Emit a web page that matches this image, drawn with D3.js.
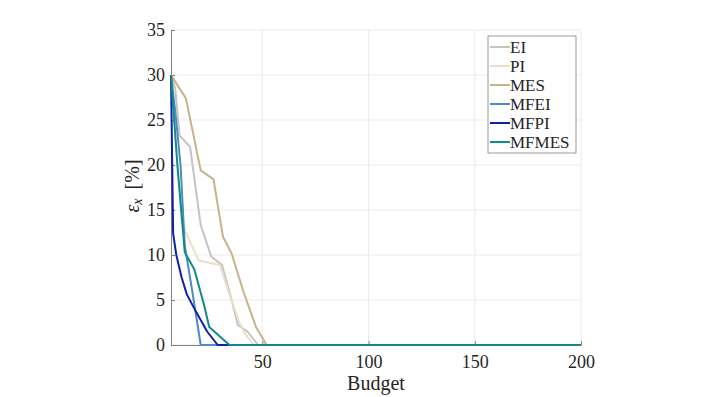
<!DOCTYPE html>
<html>
<head>
<meta charset="utf-8">
<script src="https://cdn.jsdelivr.net/npm/d3@7"></script>
<style>
  body { margin: 0; background: #fff; }
  text { font-family: "Liberation Serif", "Times New Roman", serif; fill: #262626; }
</style>
</head>
<body>
<svg id="chart" width="718" height="397"></svg>
<script>
// budget / error pairs
var seriesNames = ['EI', 'PI', 'MES', 'MFEI', 'MFPI', 'MFMES'];
var seriesColors = ['#c4c4c4', '#e9dfcb', '#c8b28c', '#4a8cc6', '#1020aa', '#13898a'];
var eiData = [[7, 30], [9, 28.5], [11, 23.3], [16, 22], [21, 13.3], [26, 9.8], [31, 8.9], [35, 5.5], [38.5, 2.2], [43, 1.5], [48, 0], [200, 0]];
var piData = [[7, 30], [12, 14], [14, 12.5], [20, 9.4], [30, 8.9], [34, 6], [39, 2.6], [42, 1.2], [46, 0], [200, 0]];
var mesData = [[7, 30], [14, 27.4], [21, 19.4], [27, 18.4], [31.5, 12], [35.5, 10.2], [41, 6], [47, 2], [52, 0], [200, 0]];
var mfeiData = [[7, 30], [9, 26], [11.5, 20], [13.5, 11], [17, 6], [21, 0], [200, 0]];
var mfpiData = [[7, 30], [8, 12.4], [9.5, 10], [12, 7.5], [14.5, 5.6], [19, 3.6], [24, 1.5], [29, 0], [200, 0]];
var mfmesData = [[7, 30], [10, 20], [13.5, 10.3], [18, 8.4], [22.5, 4.5], [25, 2], [34.5, 0], [200, 0]];
var allData = [eiData, piData, mesData, mfeiData, mfpiData, mfmesData];
var xTicks = [50, 100, 150, 200];
var yTicks = [0, 5, 10, 15, 20, 25, 30, 35];

var svg = d3.select('#chart'),
  margin = { top: 30, right: 137, bottom: 52, left: 171 },
  width = +svg.attr('width') - margin.left - margin.right,
  height = +svg.attr('height') - margin.top - margin.bottom,
  g = svg.append('g').attr('transform', 'translate(' + margin.left + ',' + margin.top + ')');

var x = d3.scaleLinear().domain([7, 200]).range([0, width]);
var y = d3.scaleLinear().domain([0, 35]).range([height, 0]);

// grid
g.selectAll('.gx').data(xTicks).enter().append('line')
  .attr('x1', function(d) { return x(d); }).attr('x2', function(d) { return x(d); })
  .attr('y1', 0).attr('y2', height)
  .attr('stroke', '#ebebeb');
g.selectAll('.gy').data(yTicks).enter().append('line')
  .attr('x1', 0).attr('x2', width)
  .attr('y1', function(d) { return y(d); }).attr('y2', function(d) { return y(d); })
  .attr('stroke', '#ebebeb');

// axes
var xAxis = g.append('g')
  .attr('transform', 'translate(0,' + height + ')')
  .call(d3.axisBottom(x).tickValues(xTicks).tickSizeInner(-4).tickSizeOuter(0).tickPadding(10));
var yAxis = g.append('g')
  .call(d3.axisLeft(y).tickValues(yTicks).tickSizeInner(-4).tickSizeOuter(0).tickPadding(6));
[xAxis, yAxis].forEach(function(a) {
  a.select('.domain').attr('stroke', '#808080');
  a.selectAll('.tick line').attr('stroke', '#808080');
  a.selectAll('.tick text').style('font-size', '18px').attr('fill', '#262626');
});

// lines
var line = d3.line()
  .x(function(d) { return x(d[0]); })
  .y(function(d) { return y(d[1]); });
g.selectAll('.series').data(allData).enter().append('path')
  .attr('fill', 'none')
  .attr('stroke', function(d, i) { return seriesColors[i]; })
  .attr('stroke-width', 2)
  .attr('stroke-linejoin', 'round')
  .attr('d', line);

// axis labels
svg.append('text')
  .attr('x', margin.left + width / 2)
  .attr('y', 390)
  .attr('text-anchor', 'middle')
  .style('font-size', '20px')
  .text('Budget');
var yl = svg.append('text')
  .attr('transform', 'translate(139,186) rotate(-90)')
  .attr('text-anchor', 'middle')
  .style('font-size', '20px');
yl.append('tspan').style('font-style', 'italic').text('ε');
yl.append('tspan').style('font-style', 'italic').style('font-size', '14px').attr('dy', 3).text('x');
yl.append('tspan').attr('dy', -3).attr('dx', 9).text('[%]');

// legend
var lg = svg.append('g').attr('transform', 'translate(488,36)');
lg.append('rect').attr('width', 88).attr('height', 117)
  .attr('fill', '#fff').attr('stroke', '#808080').attr('stroke-width', 0.8);
var item = lg.selectAll('.item').data(seriesNames).enter().append('g')
  .attr('transform', function(d, i) { return 'translate(0,' + (11 + i * 19) + ')'; });
item.append('line').attr('x1', 2).attr('x2', 22)
  .attr('stroke', function(d, i) { return seriesColors[i]; }).attr('stroke-width', 2);
item.append('text').attr('x', 22).attr('dy', '0.35em')
  .style('font-size', '17px').text(function(d) { return d; });
</script>
</body>
</html>
